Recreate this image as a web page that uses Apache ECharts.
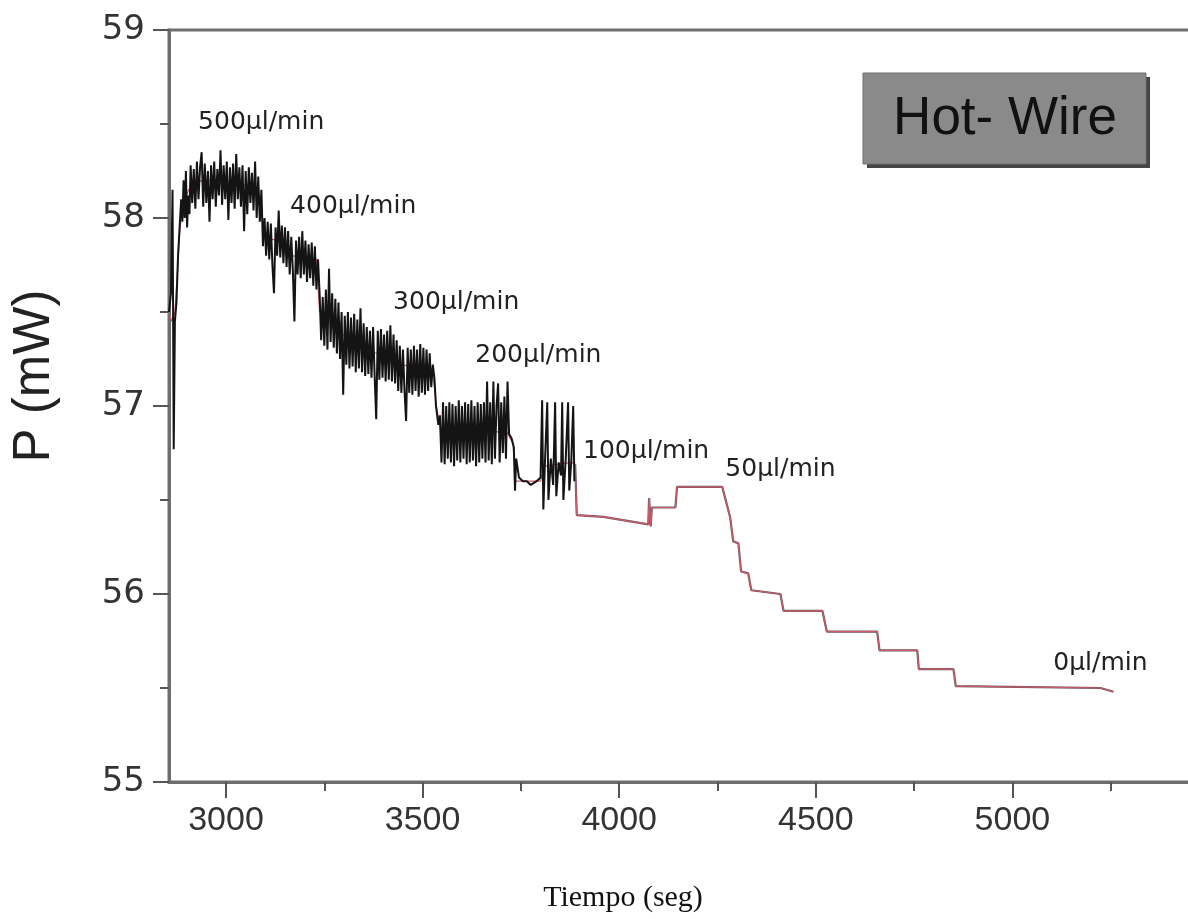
<!DOCTYPE html>
<html>
<head>
<meta charset="utf-8">
<script src="https://cdn.jsdelivr.net/npm/echarts@6/dist/echarts.min.js"></script>
<style>
html,body{margin:0;padding:0;background:#fff;}
#c{width:1188px;height:919px;}
</style>
</head>
<body>
<div id="c"></div>
<script>
// Noisy (black) signal, flow steps 500 → 100 µl/min  [time s, power mW]
const rawSignal = [
[2855,57.5],[2860,57.6],[2864,58.15],[2867,56.77],[2870,57.45],[2874,57.55],[2878,57.8],
[2882,57.95],[2886,58.1],[2889,57.98],[2892,58.2],[2895,58.0],[2898,58.25],[2901,57.95],[2904,58.12],[2907,58.02],
[2910,58.28],[2914,58.08],[2918,58.26],[2922,58.05],[2926,58.3],[2930,58.1],[2934,58.27],[2938,58.35],[2942,58.06],
[2946,58.29],[2950,58.08],[2954,58.25],[2958,57.98],[2962,58.28],[2966,58.1],[2970,58.3],[2974,58.06],[2978,58.26],
[2982,58.12],[2986,58.36],[2990,58.07],[2994,58.28],[2998,58.1],[3002,58.3],[3006,57.99],[3010,58.27],[3014,58.08],
[3018,58.29],[3022,58.05],[3026,58.34],[3030,58.1],[3034,58.27],[3038,58.06],[3042,58.28],[3046,57.93],[3050,58.25],
[3054,58.02],[3058,58.27],[3062,58.08],[3066,58.24],[3070,58.04],[3074,58.3],[3078,58.0],[3082,58.22],[3086,57.98],
[3090,58.15],
[3094,57.85],[3098,58.0],[3102,57.8],[3106,57.98],[3110,57.78],[3114,57.97],[3118,57.75],[3122,57.6],[3126,57.95],
[3130,57.8],[3134,58.04],[3138,57.79],[3142,57.96],[3146,57.76],[3150,57.95],[3154,57.74],[3158,57.93],[3162,57.7],
[3166,57.9],[3170,57.72],[3174,57.45],[3178,57.88],[3182,57.7],[3186,57.9],[3190,57.68],[3194,57.93],[3198,57.7],
[3202,57.88],[3206,57.66],[3210,57.86],[3214,57.68],[3218,57.87],[3222,57.64],[3226,57.85],[3230,57.62],[3234,57.78],
[3238,57.6],[3242,57.35],[3246,57.58],[3250,57.32],[3254,57.62],[3258,57.3],[3262,57.73],[3266,57.34],[3270,57.6],
[3274,57.31],[3278,57.57],[3282,57.28],[3286,57.55],[3290,57.25],[3294,57.5],[3298,57.06],[3302,57.48],[3306,57.22],
[3310,57.5],[3314,57.2],[3318,57.47],[3322,57.21],[3326,57.49],[3330,57.18],[3334,57.46],[3338,57.2],[3342,57.52],
[3346,57.18],[3350,57.44],[3354,57.16],[3358,57.42],[3362,57.17],[3366,57.4],[3370,57.15],[3374,57.42],[3378,57.16],
[3382,56.93],[3386,57.4],[3390,57.14],[3394,57.41],[3398,57.15],[3402,57.38],[3406,57.13],[3410,57.4],[3414,57.14],
[3418,57.43],[3422,57.13],[3426,57.38],[3430,57.12],[3434,57.35],[3438,57.08],[3442,57.32],[3446,57.07],[3450,57.3],
[3454,57.08],[3458,56.92],[3462,57.31],[3466,57.07],[3470,57.3],[3474,57.06],[3478,57.32],[3482,57.08],[3486,57.3],
[3490,57.05],[3494,57.33],[3498,57.07],[3502,57.31],[3506,57.06],[3510,57.3],[3514,57.08],[3518,57.28],[3522,57.1],
[3526,57.22],[3530,57.15],[3534,57.0],[3540,56.9],
[3544,56.95],[3548,56.7],[3552,57.02],[3556,56.69],[3560,57.0],[3564,56.72],[3568,57.02],[3572,56.7],[3576,57.01],
[3580,56.68],[3584,57.0],[3588,56.71],[3592,57.03],[3596,56.7],[3600,57.0],[3604,56.72],[3608,57.02],[3612,56.69],
[3616,57.01],[3620,56.7],[3624,57.03],[3628,56.71],[3632,57.0],[3636,56.68],[3640,57.02],[3644,56.7],[3648,57.01],
[3652,56.72],[3656,57.02],[3660,56.7],[3664,57.13],[3668,56.71],[3672,57.02],[3676,56.69],[3680,57.13],[3684,56.72],
[3688,57.0],[3692,57.12],[3696,56.7],[3700,57.02],[3704,56.75],[3708,57.05],[3712,56.72],[3716,57.13],[3720,56.85],
[3726,56.83],[3732,56.78],[3735,56.55],[3738,56.72],[3745,56.62],[3755,56.6],[3765,56.6],[3775,56.58],[3790,56.6],
[3800,56.62],[3804,57.03],[3807,56.45],[3812,56.75],[3817,57.02],[3820,56.5],[3826,56.72],[3832,56.58],[3837,57.02],
[3840,56.52],[3846,56.7],[3852,56.63],[3855,57.02],[3858,56.5],[3864,56.72],[3870,57.02],[3873,56.55],[3878,56.7],
[3883,57.0],[3886,56.6]
];
// Smoothed (red) signal over the noisy part
const meanSignal = [
[2855,57.5],[2862,57.45],[2870,57.5],[2876,57.7],[2882,57.92],[2888,58.05],[2896,58.1],[2905,58.15],[2915,58.18],
[2940,58.2],[2980,58.2],[3020,58.19],[3060,58.17],[3080,58.12],[3090,58.05],[3096,57.9],[3130,57.88],[3160,57.85],
[3166,57.8],[3230,57.78],[3238,57.5],[3290,57.45],[3296,57.38],[3345,57.34],[3352,57.29],[3430,57.27],[3438,57.22],
[3525,57.2],[3535,57.0],[3545,56.88],[3715,56.86],[3722,56.83],[3730,56.8],[3736,56.6],[3800,56.6],[3810,56.68],
[3880,56.7]
];
// Common stepped tail, 100 → 0 µl/min
const tailSignal = [
[3888,56.69],[3892,56.42],[3960,56.41],[4074,56.37],[4076,56.51],[4080,56.36],[4083,56.46],[4143,56.46],[4147,56.57],
[4262,56.57],[4272,56.49],[4282,56.41],[4290,56.28],[4303,56.27],[4310,56.12],[4328,56.11],[4336,56.02],[4410,56.0],
[4418,55.91],[4517,55.91],[4528,55.8],[4656,55.8],[4662,55.7],[4758,55.7],[4762,55.6],[4850,55.6],[4856,55.51],
[5224,55.5],[5257,55.48]
];
// Flow-rate annotations [time, power, text]
const annotations = [
[2929,58.51,'500μl/min'],[3163,58.06,'400μl/min'],[3425,57.55,'300μl/min'],[3634,57.27,'200μl/min'],
[3908,56.76,'100μl/min'],[4270,56.66,'50μl/min'],[5104,55.63,'0μl/min']
];
const xTickLabels = [3000,3500,4000,4500,5000];
const xMinorTicks = [3250,3750,4250,4750,5250];

const axisGray = '#6e6e6e';
const chart = echarts.init(document.getElementById('c'), null, {renderer:'canvas'});
const option = {
  animation:false,
  backgroundColor:'#ffffff',
  grid:{left:169, top:30, width:1040, height:752, containLabel:false, outerBoundsMode:'none',
        show:true, borderColor:axisGray, borderWidth:3, backgroundColor:'transparent'},
  xAxis:[{
    type:'value', min:2855, max:5500, position:'bottom',
    axisLine:{show:true, lineStyle:{color:axisGray, width:3}},
    axisTick:{show:true, customValues:xTickLabels, length:16, lineStyle:{color:'#555', width:2}},
    axisLabel:{show:true, customValues:xTickLabels, formatter:v => String(v), fontFamily:'Liberation Sans', fontSize:34, color:'#333', margin:22},
    splitLine:{show:false}
  },{
    type:'value', min:2855, max:5500, position:'bottom',
    axisLine:{show:false},
    axisTick:{show:true, customValues:xMinorTicks, length:9, lineStyle:{color:'#555', width:2}},
    axisLabel:{show:false},
    splitLine:{show:false}
  }],
  yAxis:{
    type:'value', min:55, max:59, interval:1,
    axisLine:{show:true, lineStyle:{color:axisGray, width:3}},
    axisTick:{show:true, length:16, lineStyle:{color:'#555', width:2}},
    minorTick:{show:true, splitNumber:2, length:9, lineStyle:{color:'#555', width:2}},
    axisLabel:{fontFamily:'DejaVu Sans', fontSize:34, color:'#333', margin:24},
    splitLine:{show:false}
  },
  series:[{
    type:'line', xAxisIndex:0, data:tailSignal, showSymbol:false, symbol:'none',
    lineStyle:{color:'#6a5a5e', width:2.2}, z:1, silent:true
  },{
    type:'line', xAxisIndex:0, data:meanSignal.concat(tailSignal), showSymbol:false, symbol:'none',
    lineStyle:{color:'#cf5a69', width:1.2}, z:2, silent:true
  },{
    type:'line', xAxisIndex:0, data:rawSignal, showSymbol:false, symbol:'none',
    lineStyle:{color:'#141414', width:2}, z:3, silent:true
  }]
};
chart.setOption(option);

const graphics = [
  {type:'rect', shape:{x:867, y:77, width:283, height:91}, style:{fill:'#454545'}, z:10},
  {type:'rect', shape:{x:863, y:73, width:283, height:91}, style:{fill:'#8a8a8a', stroke:'#707070', lineWidth:1}, z:11},
  {type:'text', x:1005, y:119, style:{text:'Hot- Wire', font:'53px "Liberation Sans"', fill:'#111', align:'center', verticalAlign:'middle'}, z:12},
  {type:'text', x:35, y:376, rotation:Math.PI/2, style:{text:'P (mW)', font:'51px "Liberation Sans"', fill:'#222', align:'center', verticalAlign:'middle'}, z:12},
  {type:'text', x:623, y:898, style:{text:'Tiempo (seg)', font:'30px "Liberation Serif"', fill:'#111', align:'center', verticalAlign:'middle'}, z:12}
];
annotations.forEach(a => {
  const p = chart.convertToPixel({xAxisIndex:0, yAxisIndex:0}, [a[0], a[1]]);
  graphics.push({type:'text', x:p[0], y:p[1], style:{text:a[2], font:'25px "DejaVu Sans"', fill:'#222', align:'left', verticalAlign:'middle'}, z:12});
});
chart.setOption({graphic:graphics});
</script>
</body>
</html>
